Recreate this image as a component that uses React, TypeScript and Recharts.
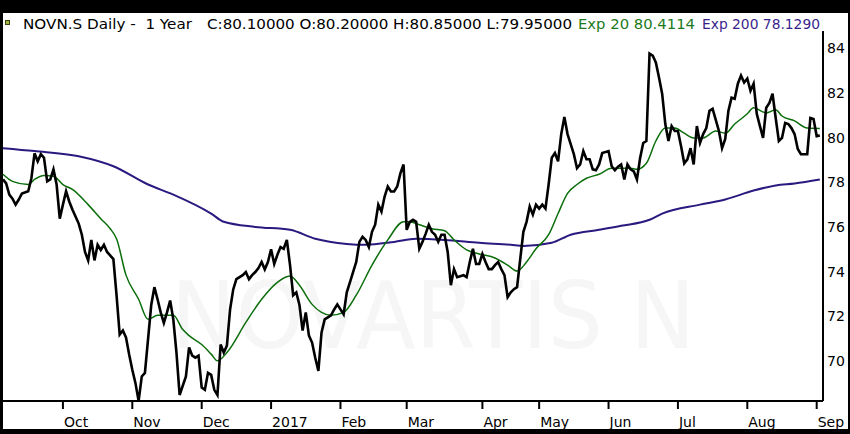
import React from 'react';
import { LineChart, Line, XAxis, YAxis } from 'recharts';

// session index (trading days from the left edge) and close
const closePrice: [number, number][] = [
  [0, 78.13], [1, 77.95], [2, 77.45], [3, 77.27], [4, 77.0], [5, 77.23], [6, 77.5], [8, 77.6], [9, 78.18],
  [10, 79.3], [11, 78.94], [12, 79.26], [13, 79.1], [14, 78.04], [15, 78.13], [16, 78.58], [17, 77.9],
  [18, 76.37], [19, 77.0], [20, 77.6], [21, 77.14], [22, 76.78], [24, 76.15], [25, 75.65], [26, 74.88],
  [27, 74.5], [28, 75.42], [29, 74.5], [30, 75.2], [31, 74.97], [32, 75.2], [33, 74.88], [35, 74.56],
  [36, 72.94], [37, 71.18], [38, 71.36], [39, 71.05], [40, 70.28], [41, 69.6], [42, 69.0], [43, 68.2],
  [44, 69.3], [45, 69.46], [47, 72.5], [48, 73.3], [49, 72.76], [50, 72.17], [51, 71.7], [52, 72.17],
  [53, 72.7], [54, 71.86], [55, 70.37], [56, 68.47], [58, 69.3], [59, 70.6], [60, 70.23], [61, 70.14],
  [62, 70.23], [63, 68.8], [64, 68.7], [65, 69.46], [66, 69.37], [67, 68.7], [68, 68.47], [69, 70.73],
  [70, 70.37], [71, 70.68], [72, 72.3], [73, 73.2], [74, 73.66], [76, 73.84], [77, 73.98], [78, 73.66],
  [79, 73.84], [80, 73.98], [81, 74.16], [82, 74.43], [83, 74.1], [84, 74.43], [85, 75.0], [86, 74.34],
  [87, 74.75], [88, 75.1], [89, 75.02], [90, 75.42], [91, 74.3], [92, 72.94], [93, 73.07], [94, 72.5],
  [95, 71.36], [96, 72.17], [97, 71.13], [98, 70.82], [99, 70.14], [100, 69.55], [101, 71.27], [102, 71.86],
  [103, 71.95], [104, 72.04], [105, 72.3], [106, 72.53], [108, 72.08], [109, 73.07], [110, 73.52],
  [111, 73.98], [112, 74.43], [113, 75.33], [114, 75.56], [115, 75.42], [116, 75.1], [117, 75.78],
  [118, 76.1], [119, 77.0], [120, 76.69], [121, 77.36], [122, 77.81], [123, 77.59], [124, 77.59],
  [125, 77.81], [126, 78.4], [127, 78.8], [128, 75.87], [129, 76.23], [130, 76.32], [131, 76.23],
  [132, 75.02], [133, 75.33], [134, 75.69], [135, 76.1], [136, 75.78], [137, 75.65], [138, 75.33],
  [139, 75.65], [140, 75.65], [141, 74.88], [142, 73.39], [143, 74.11], [144, 73.75], [146, 73.84],
  [147, 73.75], [148, 74.43], [149, 75.02], [150, 74.34], [151, 74.34], [152, 74.79], [153, 74.43],
  [154, 74.11], [155, 74.11], [156, 74.29], [157, 74.43], [158, 74.11], [159, 73.84], [160, 72.85],
  [161, 73.07], [162, 73.21], [163, 73.3], [164, 74.56], [165, 75.78], [166, 76.23], [167, 76.91],
  [168, 76.55], [169, 77.0], [170, 76.82], [171, 77.0], [172, 76.82], [173, 77.9], [174, 79.1],
  [175, 79.31], [176, 78.94], [177, 80.16], [178, 80.93], [179, 80.16], [181, 79.26], [182, 78.63],
  [183, 78.8], [184, 79.4], [185, 79.03], [186, 79.03], [187, 78.58], [188, 78.54], [189, 78.8],
  [190, 79.31], [192, 79.4], [193, 78.72], [194, 78.54], [195, 78.7], [196, 78.8], [197, 78.13],
  [198, 78.8], [199, 78.58], [200, 78.49], [201, 78.13], [202, 79.08], [203, 79.76], [204, 79.85],
  [205, 83.77], [206, 83.68], [207, 83.37], [208, 82.7], [209, 81.97], [210, 80.61], [211, 79.85],
  [212, 80.52], [213, 80.3], [214, 80.3], [215, 79.62], [216, 78.85], [217, 79.03], [218, 79.53],
  [219, 78.8], [220, 80.52], [221, 79.76], [222, 80.16], [223, 80.43], [224, 81.2], [225, 81.29],
  [227, 80.3], [228, 79.53], [229, 79.94], [230, 81.2], [231, 81.79], [232, 81.74], [233, 82.42],
  [234, 82.78], [235, 82.47], [236, 82.65], [237, 82.1], [238, 82.42], [239, 81.07], [240, 80.52],
  [241, 79.99], [242, 81.34], [243, 81.56], [244, 81.97], [245, 80.88], [246, 79.85], [247, 79.99],
  [248, 80.66], [249, 80.61], [250, 80.43], [251, 80.16], [252, 79.49], [253, 79.26], [255, 79.26],
  [256, 80.88], [257, 80.84], [258, 80.07], [259, 80.1],
];

const ema20: [number, number][] = [
  [0, 78.36], [3, 78.04], [8, 77.9], [10, 78.13], [13, 78.31], [16, 78.27], [19, 77.9], [22, 77.68],
  [27, 77.0], [31, 76.37], [34, 75.92], [36, 75.47], [39, 73.84], [43, 72.76], [46, 71.86], [49, 72.04],
  [54, 72.04], [57, 71.4], [59, 71.13], [63, 70.73], [66, 70.3], [68, 70.0], [71, 70.37], [77, 71.72],
  [82, 72.76], [87, 73.52], [91, 73.8], [94, 73.39], [98, 72.53], [101, 72.17], [104, 72.04],
  [108, 72.17], [112, 72.94], [117, 74.29], [122, 75.42], [127, 76.23], [129, 76.23], [132, 76.1],
  [136, 75.92], [140, 75.83], [143, 75.42], [147, 74.97], [151, 74.79], [156, 74.61], [160, 74.29],
  [163, 74.02], [166, 74.43], [169, 75.02], [173, 75.65], [176, 76.6], [179, 77.5], [182, 77.9],
  [185, 78.18], [189, 78.36], [193, 78.63], [196, 78.63], [199, 78.63], [201, 78.58], [204, 78.85],
  [207, 79.85], [210, 80.43], [213, 80.43], [216, 80.2], [219, 79.99], [222, 79.99], [226, 80.3],
  [229, 80.2], [232, 80.61], [236, 81.07], [238, 81.34], [242, 81.11], [245, 81.25], [247, 80.97],
  [251, 80.75], [255, 80.43], [259, 80.41],
];

const ema200: [number, number][] = [
  [0, 79.53], [10, 79.4], [24, 79.17], [35, 78.72], [46, 77.9], [54, 77.45], [66, 76.6], [70, 76.23],
  [80, 76.0], [91, 75.87], [99, 75.47], [109, 75.24], [115, 75.2], [124, 75.33], [131, 75.47],
  [140, 75.42], [151, 75.29], [161, 75.2], [165, 75.15], [174, 75.29], [180, 75.65], [189, 75.87],
  [196, 76.05], [205, 76.32], [209, 76.6], [221, 77.0], [229, 77.23], [238, 77.63], [245, 77.86],
  [251, 77.95], [259, 78.13],
];

const monthTicks = [19, 41, 63, 85, 107, 128, 152, 170, 192, 214, 236, 258];
const monthLabels = ['Oct', 'Nov', 'Dec', '2017', 'Feb', 'Mar', 'Apr', 'May', 'Jun', 'Jul', 'Aug', 'Sep'];
const priceTicks = [70, 72, 74, 76, 78, 80, 82, 84];

const toRows = (pts: [number, number][]) => pts.map(([t, v]) => ({ t, v }));

const font = '"DejaVu Sans", Verdana, sans-serif';

function MonthTick({ x, y, payload }: any) {
  const i = monthTicks.indexOf(payload.value);
  return (
    <text x={x + 1} y={y + 16} fontSize={14} fontFamily={font} fill="#000" textAnchor="start">
      {monthLabels[i]}
    </text>
  );
}

export default function App() {
  return (
    <div style={{ position: 'absolute', left: 0, top: 0, width: 850, height: 434, background: '#000' }}>
      <div style={{ position: 'absolute', left: 3, top: 13, width: 845, height: 416, background: '#fff' }} />
      <svg width={850} height={434} style={{ position: 'absolute', left: 0, top: 0 }}>
        <text x={171} y={348} fontSize={92} fontFamily={font} fill="#f6f6f6" textLength={524} lengthAdjust="spacingAndGlyphs">
          NOVARTIS N
        </text>
        <rect x={5.5} y={20.5} width={4} height={4} fill="#a3b23a" stroke="#3a4410" strokeWidth={1} />
        <g fontFamily={font} fontSize={14}>
          <text x={23} y={29} fill="#000" textLength={169} lengthAdjust="spacingAndGlyphs">
            NOVN.S Daily -{'\u00a0\u00a0'}1 Year
          </text>
          <text x={207} y={29} fill="#000" textLength={365} lengthAdjust="spacingAndGlyphs">
            C:80.10000 O:80.20000 H:80.85000 L:79.95000
          </text>
          <text x={578} y={29} fill="#1b7a1b" textLength={117} lengthAdjust="spacingAndGlyphs">
            Exp 20 80.4114
          </text>
          <text x={702} y={29} fill="#3a1f8c" textLength={118} lengthAdjust="spacingAndGlyphs">
            Exp 200 78.1290
          </text>
        </g>
      </svg>
      <div style={{ position: 'absolute', left: 0, top: 0 }}>
        <LineChart width={850} height={434} data={toRows(closePrice)} margin={{ top: 31, left: 3, right: 2, bottom: 2 }}>
          <XAxis
            dataKey="t"
            type="number"
            domain={[0, 260]}
            ticks={monthTicks}
            height={31}
            axisLine={{ stroke: '#000', strokeWidth: 2 }}
            tickLine={{ stroke: '#000', strokeWidth: 2 }}
            tickSize={8}
            tickMargin={2}
            tick={<MonthTick />}
            interval={0}
          />
          <YAxis
            orientation="right"
            type="number"
            domain={[68.2, 84.78]}
            ticks={priceTicks}
            width={25}
            axisLine={{ stroke: '#000', strokeWidth: 2 }}
            tickLine={false}
            tickSize={0}
            tickMargin={4}
            tick={{ fill: '#000', fontSize: 14, fontFamily: font }}
            allowDataOverflow
          />
          <Line data={toRows(ema200)} dataKey="v" type="monotone" stroke="#2a1a80" strokeWidth={2} dot={false} isAnimationActive={false} />
          <Line data={toRows(ema20)} dataKey="v" type="monotone" stroke="#0b6e0b" strokeWidth={1.5} dot={false} isAnimationActive={false} />
          <Line dataKey="v" type="linear" stroke="#000" strokeWidth={2.6} dot={false} isAnimationActive={false} />
        </LineChart>
      </div>
    </div>
  );
}
